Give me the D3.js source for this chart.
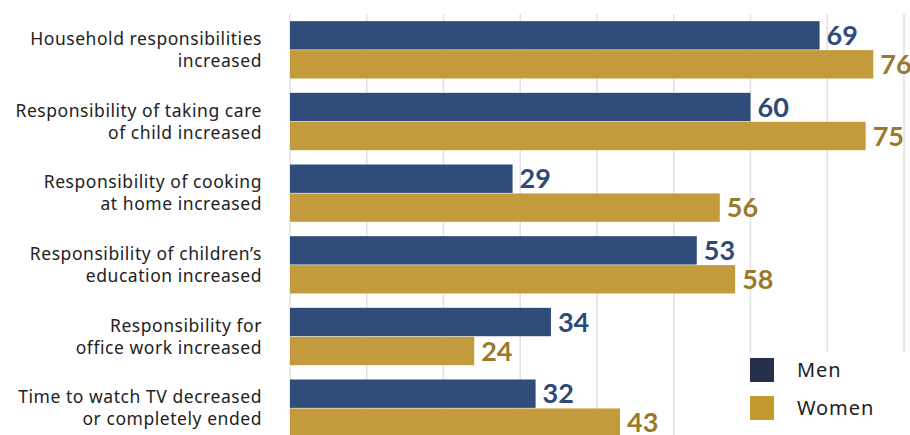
<!DOCTYPE html>
<html><head><meta charset="utf-8">
<script src="https://cdn.jsdelivr.net/npm/d3@7"></script>
<style>body{margin:0;background:#fff}svg{display:block}</style>
</head><body>
<script>
const categories = [
  ["Household responsibilities","increased"],
  ["Responsibility of taking care","of child increased"],
  ["Responsibility of cooking","at home increased"],
  ["Responsibility of children\u2019s","education increased"],
  ["Responsibility for","office work increased"],
  ["Time to watch TV decreased","or completely ended"]
];
const men = [69,60,29,53,34,32];
const women = [76,75,56,58,24,43];
const ticks = [0,10,20,30,40,50,60,70,80];
const seriesNames = ["Men","Women"];

const W=910,H=435;
const svg=d3.select("body").append("svg").attr("width",W).attr("height",H);
const x=d3.scaleLinear().domain([0,80]).range([290,904]);
const y=d3.scaleBand().domain(d3.range(categories.length)).range([14,444]).paddingInner(0.2).paddingOuter(0.1);
const sub=d3.scaleBand().domain([0,1]).range([0,y.bandwidth()]).paddingInner(0.02);
const barColors=["#2f4c7a","#c49b3c"];
const textColors=["#2e4a78","#9a7a2a"];

svg.append("g").selectAll("line").data(ticks).join("line")
  .attr("x1",d=>x(d)).attr("x2",d=>x(d)).attr("y1",14).attr("y2",H)
  .attr("stroke","#e2e2e2").attr("stroke-width",1.5);

const series=[men,women];
series.forEach((vals,si)=>{
  const g=svg.append("g");
  g.selectAll("rect").data(vals).join("rect")
    .attr("x",x(0)).attr("y",(d,i)=>y(i)+sub(si))
    .attr("width",d=>x(d)-x(0)).attr("height",sub.bandwidth())
    .attr("fill",barColors[si]);
  g.selectAll("text").data(vals).join("text")
    .attr("x",d=>x(d)+7).attr("y",(d,i)=>y(i)+sub(si)+sub.bandwidth()/2)
    .attr("dy","0.36em")
    .attr("font-family","Lato, 'Open Sans', sans-serif").attr("font-weight",700)
    .attr("font-size",27).attr("fill",textColors[si]).text(d=>d);
});

const lab=svg.append("g");
categories.forEach((c,i)=>{
  const cy=y(i)+y.bandwidth()/2;
  const t=lab.append("text").attr("text-anchor","end")
    .attr("font-family","'Noto Sans', sans-serif").attr("font-size",17.5)
    .attr("letter-spacing",0.55).attr("fill","#222");
  c.forEach((line,j)=>{
    t.append("tspan").attr("x",262).attr("y",cy+(j-0.5)*22).attr("dy","0.35em").text(line);
  });
});

// legend
const lg=svg.append("g");
lg.append("rect").attr("x",738).attr("y",352).attr("width",172).attr("height",83).attr("fill","#fff");
const legColors=["#262f4c","#c49a2f"];
seriesNames.forEach((n,i)=>{
  const yy=358+i*38;
  lg.append("rect").attr("x",750).attr("y",yy).attr("width",24).attr("height",24).attr("fill",legColors[i]);
  lg.append("text").attr("x",797).attr("y",yy+12).attr("dy","0.35em")
    .attr("font-family","'Noto Sans', sans-serif").attr("font-size",20).attr("letter-spacing",0.9)
    .attr("fill","#222").text(n);
});
</script>
</body></html>
